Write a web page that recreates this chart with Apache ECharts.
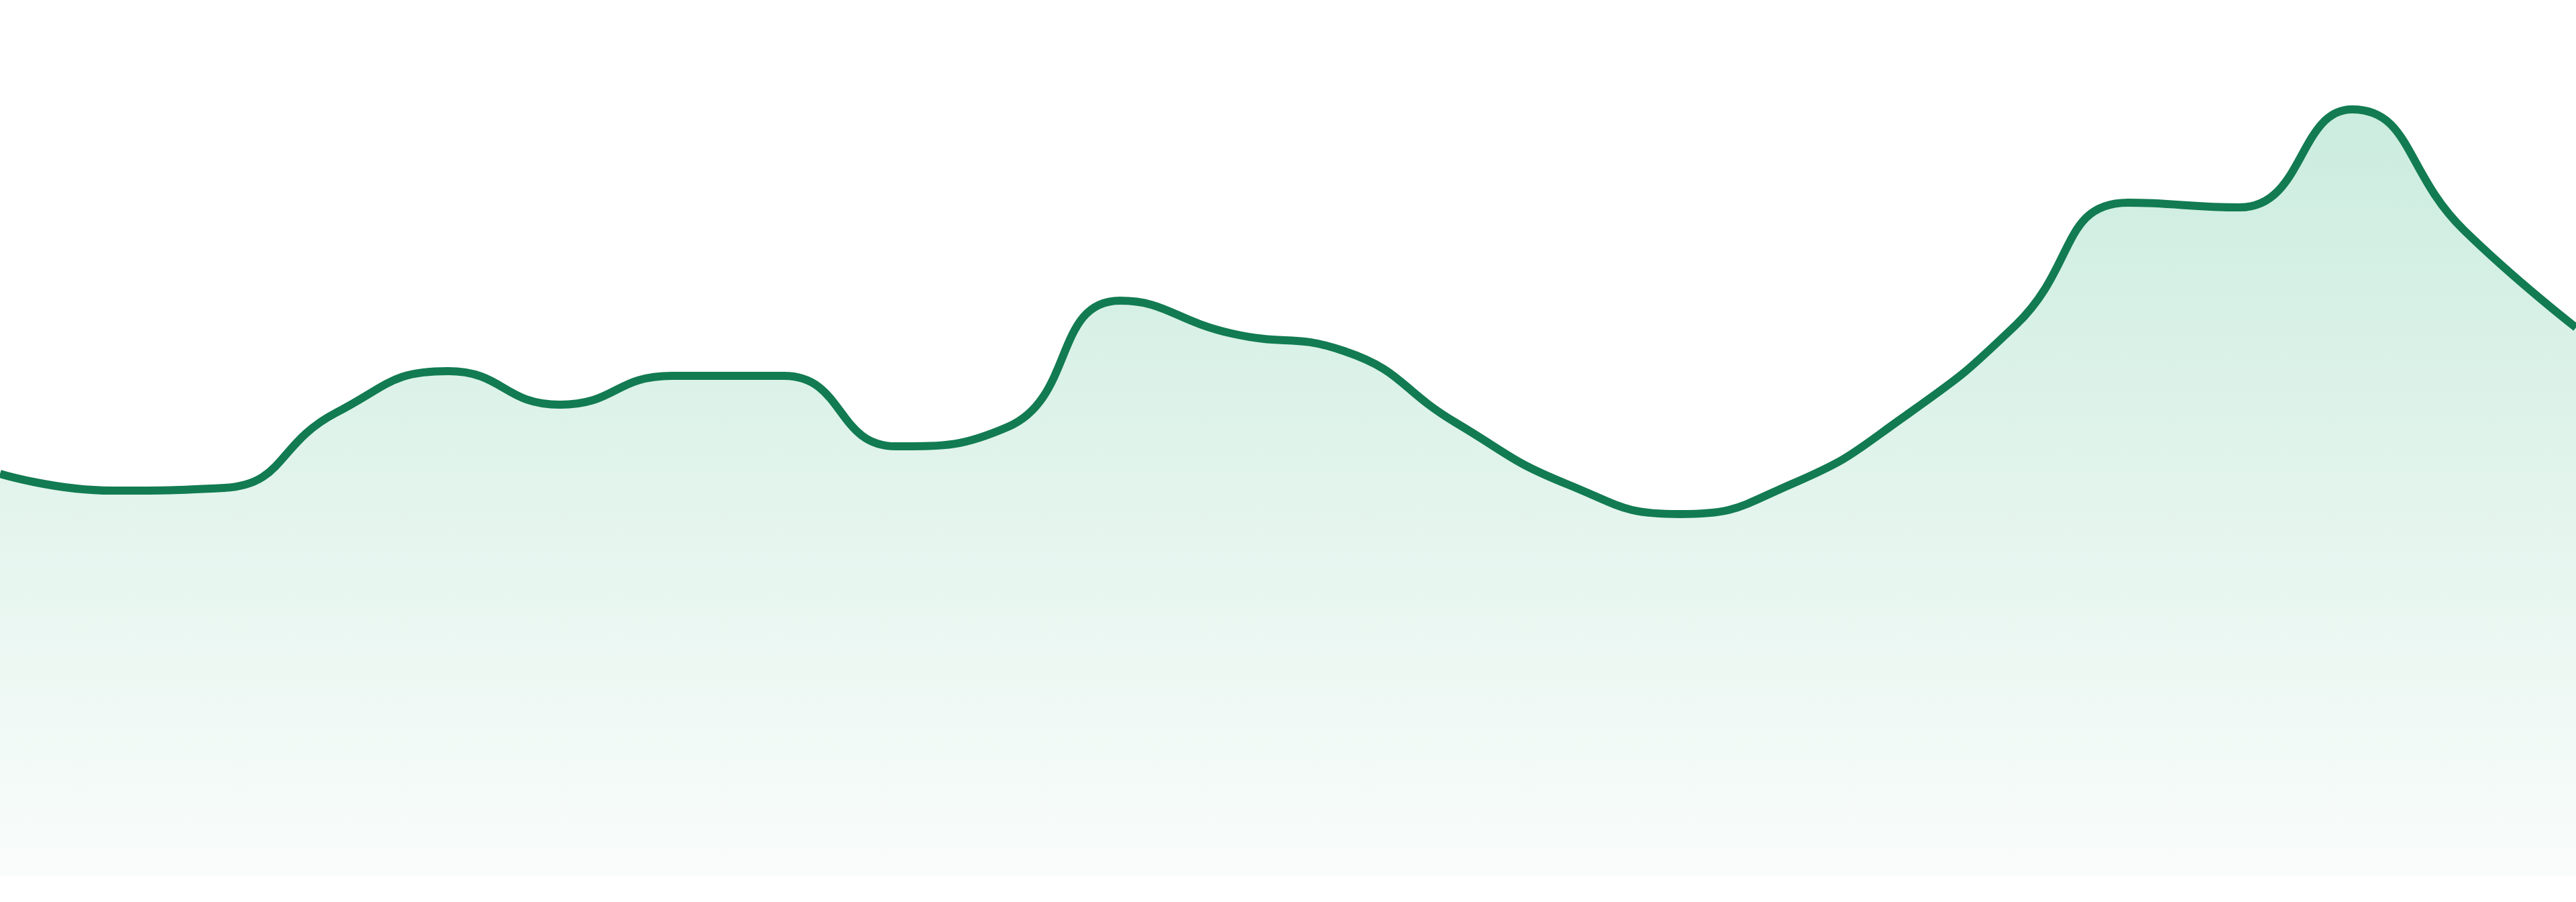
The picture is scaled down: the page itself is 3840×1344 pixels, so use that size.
<!DOCTYPE html>
<html>
<head>
<meta charset="utf-8">
<script src="https://cdn.jsdelivr.net/npm/echarts@6/dist/echarts.min.js"></script>
<style>
html,body{margin:0;padding:0;background:#ffffff;}
#chart{width:3840px;height:1344px;}
</style>
</head>
<body>
<div id="chart"></div>
<script>
const categories = ['1','2','3','4','5','6','7','8','9','10','11','12','13','14','15','16','17','18','19','20','21','22','23','24'];
const values = [59.9,57.4,57.8,69.0,75.2,70.2,74.5,74.5,64.0,66.9,85.7,80.8,78.2,67.5,58.3,53.9,58.4,68.4,82.1,100.3,99.6,114.2,96.2,81.7];

const chart = echarts.init(document.getElementById('chart'), null, {renderer:'canvas'});
chart.setOption({
  animation:false,
  backgroundColor:'#ffffff',
  grid:{left:0,right:0,top:45,bottom:39},
  xAxis:{type:'category',data:categories,boundaryGap:false,show:false},
  yAxis:{type:'value',min:0,max:126,show:false},
  series:[{
    type:'line',
    data:values,
    smooth:true,
    symbol:'none',
    lineStyle:{color:'#127b52',width:12},
    areaStyle:{
      color:new echarts.graphic.LinearGradient(0,0,0,1,[
        {offset:0,color:'#b5e4d1'},
        {offset:1,color:'#f7fbf9'}
      ])
    }
  }]
});
</script>
</body>
</html>
